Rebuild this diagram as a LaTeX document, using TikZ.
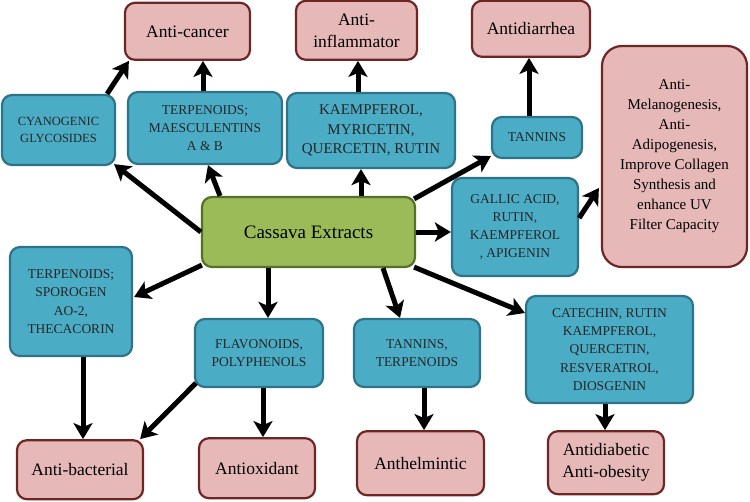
\documentclass[tikz,border=0pt]{standalone}
\usepackage{fontspec}
\setmainfont{Liberation Serif}
\usetikzlibrary{positioning,arrows.meta}

\definecolor{cbfill}{HTML}{4BACC6}
\definecolor{cbline}{HTML}{2F7388}
\definecolor{cpfill}{HTML}{E6B9B8}
\definecolor{cpline}{HTML}{6E2624}
\definecolor{cgfill}{HTML}{9BBB59}
\definecolor{cgline}{HTML}{56702A}

\begin{document}
\begin{tikzpicture}[x=1pt,y=1pt,
		green/.style={draw=cgline,fill=cgfill,line width=2.2pt,rounded corners=10pt,inner sep=0pt,align=center,font=\fontsize{19}{23}\selectfont},
		blue/.style={draw=cbline,fill=cbfill,line width=2.2pt,rounded corners=10pt,inner sep=0pt,align=center,text=black!85,font=\fontsize{13.5}{18.2}\selectfont},
		red/.style={draw=cpline,fill=cpfill,line width=2.2pt,rounded corners=10pt,inner sep=0pt,align=center,font=\fontsize{17.5}{22}\selectfont},
		arr/.style={line width=5pt,-{Stealth[length=16pt,width=19pt,inset=4pt]}}]
		\useasboundingbox (0,0) rectangle (750,-501);

		\node[green,minimum width=213pt,minimum height=70pt]	at (308.5,-232)	(0)	{Cassava Extracts};

		\node[blue,minimum width=113pt,minimum height=70pt,font=\fontsize{12.5}{16.7}\selectfont] at (58.5,-130) (1) {CYANOGENIC\\GLYCOSIDES};
		\node[blue,minimum width=154pt,minimum height=72pt]	at (205,-128)	(2)	{TERPENOIDS;\\MAESCULENTINS\\A \& B};
		\node[blue,minimum width=168pt,minimum height=75pt,font=\fontsize{15}{19.5}\selectfont] at (371,-130.5) (3) {KAEMPFEROL,\\MYRICETIN,\\QUERCETIN, RUTIN};
		\node[blue,minimum width=90pt,minimum height=41pt]	at (537,-137.5)	(4)	{TANNINS};
		\node[blue,minimum width=126pt,minimum height=98pt]	at (515,-227)	(5)	{GALLIC ACID,\\RUTIN,\\KAEMPFEROL\\, APIGENIN};
		\node[blue,minimum width=122pt,minimum height=109pt]	at (71,-301.5)	(6)	{TERPENOIDS;\\SPOROGEN\\AO-2,\\THECACORIN};
		\node[blue,minimum width=128pt,minimum height=68pt]	at (259,-353)	(7)	{FLAVONOIDS,\\POLYPHENOLS};
		\node[blue,minimum width=126pt,minimum height=68pt]	at (417,-353)	(8)	{TANNINS,\\TERPENOIDS};
		\node[blue,minimum width=167pt,minimum height=107pt]	at (609.5,-349.5)	(9)	{CATECHIN, RUTIN\\KAEMPFEROL,\\QUERCETIN,\\RESVERATROL,\\DIOSGENIN};

		\node[red,minimum width=125pt,minimum height=57pt,node distance=30pt,above=of 2,xshift=-17.5pt]	(10)	{Anti-cancer};
		\node[red,minimum width=121pt,minimum height=59pt,node distance=31pt,above=of 3,xshift=-14.5pt]	(11)	{Anti-\\inflammator};
		\node[red,minimum width=118pt,minimum height=56pt,node distance=58pt,above=of 4,xshift=-6pt]	(12)	{Antidiarrhea};
		\node[red,minimum width=145pt,minimum height=221pt,rounded corners=20pt,font=\fontsize{15}{20}\selectfont] at (674.5,-156.5) (13) {Anti-\\Melanogenesis,\\Anti-\\Adipogenesis,\\Improve Collagen\\Synthesis and\\enhance UV\\Filter Capacity};
		\node[red,minimum width=126pt,minimum height=59pt,node distance=82pt,below=of 6,xshift=9pt]	(14)	{Anti-bacterial};
		\node[red,minimum width=116pt,minimum height=60pt,node distance=49pt,below=of 7,xshift=-2pt]	(15)	{Antioxidant};
		\node[red,minimum width=127pt,minimum height=64pt,node distance=42pt,below=of 8,xshift=3.5pt]	(16)	{Anthelmintic};
		\node[red,minimum width=116pt,minimum height=63pt,node distance=26pt,below=of 9,xshift=-3.5pt]	(17)	{Antidiabetic\\Anti-obesity};

		\draw[arr] (0.west) -- ([shift={(-2pt,2pt)}]1.south east);
		\draw[arr] ([xshift=-88.5pt]0.north) -- ([xshift=3pt]2.south);
		\draw[arr] ([xshift=52.5pt]0.north) -- ([xshift=-10pt]3.south);
		\draw[arr] ([shift={(-2pt,-3pt)}]0.north east) -- ([yshift=3pt]4.south west);
		\draw[arr] (0.east) -- (0.east -| 5.west);
		\draw[arr] ([shift={(1pt,3pt)}]0.south west) -- ([shift={(1pt,4.5pt)}]6.east);
		\draw[arr] ([xshift=-40.5pt]0.south) -- ([xshift=9pt]7.north);
		\draw[arr] ([xshift=74.5pt]0.south) -- ([xshift=-17pt]8.north);
		\draw[arr] ([shift={(-2pt,1pt)}]0.south east) -- ([yshift=36.5pt]9.west);

		\draw[arr] ([xshift=48.5pt]1.north) -- ([xshift=5pt]10.south west);
		\draw[arr] ([xshift=-2pt]2.north) -- ([xshift=15.5pt]10.south);
		\draw[arr] ([xshift=-13pt]3.north) -- ([xshift=1.5pt]11.south);
		\draw[arr] ([xshift=-8pt]4.north) -- ([xshift=-2pt]12.south);
		\draw[arr] ([yshift=9pt]5.east) -- ([shift={(-2pt,-31.5pt)}]13.west);
		\draw[arr] ([xshift=12pt]6.south) -- ([xshift=3pt]14.north);
		\draw[arr] ([shift={(2pt,5pt)}]7.south west) -- ([xshift=-4pt]14.north east);
		\draw[arr] ([xshift=4pt]7.south) -- ([xshift=6pt]15.north);
		\draw[arr] ([xshift=7pt]8.south) -- ([xshift=3.5pt]16.north);
		\draw[arr] ([xshift=-4.5pt]9.south) -- ([xshift=-1pt]17.north);
	\end{tikzpicture}
\end{document}
